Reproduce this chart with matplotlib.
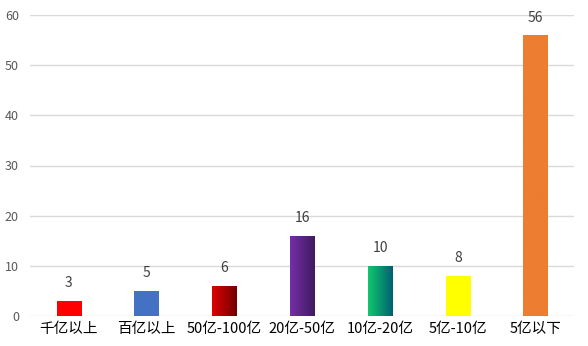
import matplotlib
matplotlib.use('Agg')
import matplotlib.pyplot as plt
import numpy as np
from matplotlib.colors import LinearSegmentedColormap

plt.rcParams['font.family'] = ['Noto Sans CJK SC', 'DejaVu Sans']

categories = ['千亿以上', '百亿以上', '50亿-100亿', '20亿-50亿', '10亿-20亿', '5亿-10亿', '5亿以下']
values = [3, 5, 6, 16, 10, 8, 56]
# (left colour, right colour) for each bar; equal colours = flat fill
bar_colors = [('#FF0000', '#FF0000'), ('#4472C4', '#4472C4'), ('#E00000', '#700000'),
              ('#7530A8', '#3F1A5E'), ('#12C76E', '#005F72'), ('#FFFF00', '#FFFF00'),
              ('#ED7D31', '#ED7D31')]

fig = plt.figure(figsize=(5.88, 3.46), dpi=100)
ax = fig.add_axes([30 / 588, 1 - 316 / 346, 544.5 / 588, 301 / 346])

x = np.arange(len(categories))
width = 0.315
bars = ax.bar(x, values, width=width, color='none', zorder=3)
grad = np.linspace(0, 1, 256).reshape(1, -1)
for b, (c1, c2) in zip(bars, bar_colors):
    cmap = LinearSegmentedColormap.from_list('g', [c1, c2])
    x0, y0 = b.get_x(), b.get_y()
    im = ax.imshow(grad, cmap=cmap, aspect='auto', zorder=3,
                   extent=[x0, x0 + b.get_width(), y0, y0 + b.get_height()])
    im.set_clip_path(b)

for xi, v in zip(x, values):
    ax.text(xi, v + 2.1, str(v), ha='center', va='bottom', fontsize=10, color='#404040')

ax.set_xlim(-0.5, len(categories) - 0.5)
ax.set_ylim(0, 60)
ax.set_yticks(np.arange(0, 61, 10))
ax.grid(axis='y', color='#D9D9D9', linewidth=1, zorder=0)
ax.set_axisbelow(True)
for s in ax.spines.values():
    s.set_visible(False)
ax.tick_params(axis='y', length=0, labelsize=9, labelcolor='#595959', pad=8)
ax.tick_params(axis='x', length=0, labelsize=10.5, labelcolor='black', pad=4)
ax.set_xticks(x)
ax.set_xticklabels(categories)

fig.savefig('out.png', dpi=100)
